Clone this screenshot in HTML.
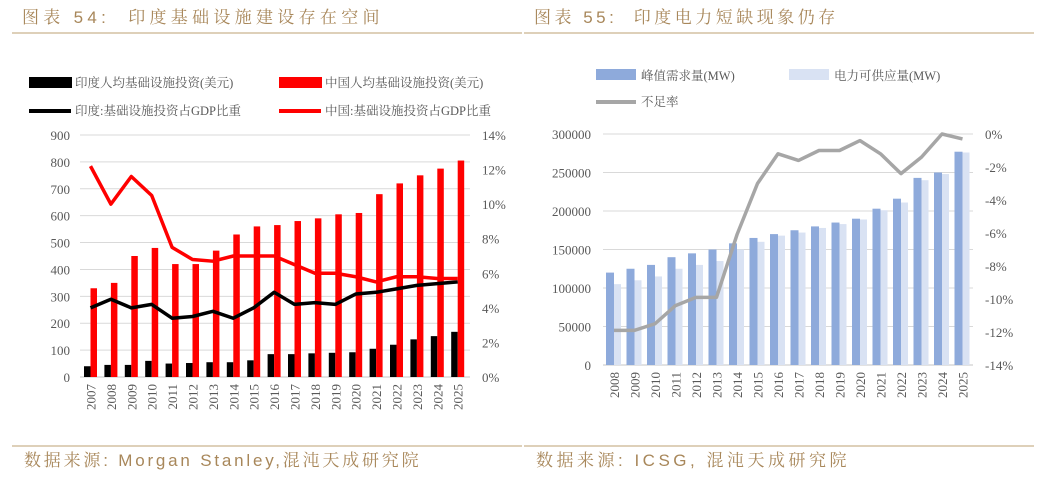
<!DOCTYPE html>
<html><head><meta charset="utf-8">
<style>
body{margin:0;background:#fff;width:1046px;height:480px;overflow:hidden;position:relative}
svg text{font-family:"Liberation Serif","Noto Serif CJK SC",serif}
.h{position:absolute;font-family:"Liberation Sans","Noto Serif CJK SC",serif;color:#a8875a;font-size:17px;white-space:pre;line-height:20px}
svg{position:absolute;left:0;top:0}
</style></head><body>
<svg id="s" width="1046" height="480" xmlns="http://www.w3.org/2000/svg"></svg>
<div class="h" style="left:22px;top:8px;letter-spacing:4.3px">图表 54:  印度基础设施建设存在空间</div>
<div class="h" style="left:534px;top:8px;letter-spacing:3.5px">图表 55:  印度电力短缺现象仍存</div>
<div class="h" style="left:24px;top:451px;letter-spacing:2.8px">数据来源: Morgan Stanley,混沌天成研究院</div>
<div class="h" style="left:536px;top:451px;letter-spacing:3.5px">数据来源: ICSG, 混沌天成研究院</div>
<script>
const S=document.getElementById('s');let h='';
const T=(x,y,t,o)=>{o=o||{};h+=`<text x="${x}" y="${y}" font-size="${o.fs||13}" fill="${o.c||'#595959'}" text-anchor="${o.a||'start'}" ${o.tr?`transform="${o.tr}"`:''}>${t}</text>`};
const R=(x,y,w,hh,c)=>{h+=`<rect x="${x}" y="${y}" width="${w}" height="${hh}" fill="${c}"/>`};
const L=(x1,y1,x2,y2,c,w)=>{h+=`<line x1="${x1}" y1="${y1}" x2="${x2}" y2="${y2}" stroke="${c}" stroke-width="${w}"/>`};
const P=(pts,c,w)=>{h+=`<polyline points="${pts.map(p=>p.join(',')).join(' ')}" fill="none" stroke="${c}" stroke-width="${w}" stroke-linejoin="round"/>`};
L(12,33,522,33,'#c9b48f',1.2);L(524,33,1034,33,'#c9b48f',1.2);
L(12,446,522,446,'#c9b48f',1.2);L(524,446,1034,446,'#c9b48f',1.2);
// LEFT CHART
R(29,77,43,11,'#000');T(75,87,'印度人均基础设施投资(美元)',{fs:12.5});
R(279,77,43,11,'#f00');T(325,87,'中国人均基础设施投资(美元)',{fs:12.5});
L(29,111,71,111,'#000',4);T(75,115,'印度:基础设施投资占GDP比重',{fs:12.5});
L(279,111,321,111,'#f00',4);T(325,115,'中国:基础设施投资占GDP比重',{fs:12.5});
let y0=377,y1=135;
for(let i=0;i<=9;i++){let y=y0-(y0-y1)*i/9;L(80,y,470,y,'#d9d9d9',i?1:1.5);T(70,y+5,i*100,{a:'end'});}
for(let i=0;i<=7;i++){let y=y0-(y0-y1)*i/7;T(482,y+5,(i*2)+'%');}
const bl=[40,45,45,60,50,52,55,55,62,85,85,88,90,92,105,120,140,152,168];
const rd=[330,350,450,480,420,420,470,530,560,565,580,590,605,610,680,720,750,775,805];
const il=[4.0,4.5,4.0,4.2,3.4,3.5,3.8,3.4,4.0,4.9,4.2,4.3,4.2,4.8,4.9,5.1,5.3,5.4,5.5];
const cl=[12.2,10.0,11.6,10.5,7.5,6.8,6.7,7.0,7.0,7.0,6.5,6.0,6.0,5.8,5.5,5.8,5.8,5.7,5.7];
const xc=i=>90.5+i*20.4;const vy=v=>y0-(y0-y1)*v/900;const py=v=>y0-(y0-y1)*v/14;
for(let i=0;i<19;i++){R(xc(i)-6.5,vy(bl[i]),6.5,y0-vy(bl[i]),'#000');R(xc(i),vy(rd[i]),6.5,y0-vy(rd[i]),'#f00');
T(xc(i)+5,384,2007+i,{a:'end',tr:`rotate(-90 ${xc(i)+5} 384)`});}
P(il.map((v,i)=>[xc(i),py(v)]),'#000',3.5);
P(cl.map((v,i)=>[xc(i),py(v)]),'#f00',3.5);
// RIGHT CHART
R(596,69,40,11,'#8eaadb');T(641,80,'峰值需求量(MW)',{fs:12.5});
R(789,69,40,11,'#d9e2f3');T(834,80,'电力可供应量(MW)',{fs:12.5});
L(596,102,636,102,'#a6a6a6',4);T(641,106,'不足率',{fs:12.5});
let Y0=365,Y1=134;
for(let i=0;i<=6;i++){let y=Y0-(Y0-Y1)*i/6;L(603,y,973,y,'#d9d9d9',i?1:1.5);T(591,y+5,i*50000,{a:'end'});}
for(let i=0;i<=7;i++){let y=Y1+(Y0-Y1)*i/7;T(985,y+5,(i?'-':'')+(i*2)+'%');}
const dm=[120000,125000,130000,140000,145000,150000,158000,165000,170000,175000,180000,185000,190000,203000,216000,243000,250000,277000];
const sp=[105000,110000,115000,125000,130000,135000,150000,160000,168000,172000,178000,183000,189000,201000,211000,240000,248000,276000];
const sh=[-11.9,-11.9,-11.5,-10.4,-9.9,-9.9,-6.1,-3.0,-1.2,-1.6,-1.0,-1.0,-0.4,-1.2,-2.4,-1.4,0,-0.3];
const X=i=>614+i*20.5;const vy2=v=>Y0-(Y0-Y1)*v/300000;const py2=v=>Y1-(Y0-Y1)*v/14;
for(let i=0;i<18;i++){R(X(i)-8,vy2(dm[i]),8,Y0-vy2(dm[i]),'#8eaadb');R(X(i),vy2(sp[i]),7,Y0-vy2(sp[i]),'#d9e2f3');
T(X(i)+5,372,2008+i,{a:'end',tr:`rotate(-90 ${X(i)+5} 372)`});}
P(sh.map((v,i)=>[X(i),py2(v)]),'#a6a6a6',3.5);
S.innerHTML=h;
</script>
</body></html>
